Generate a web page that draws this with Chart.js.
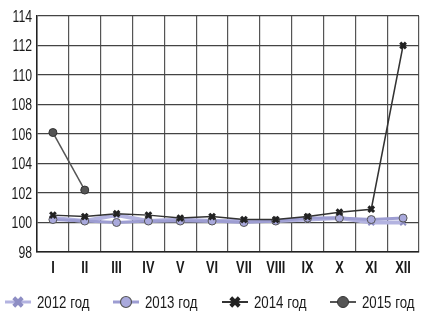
<!DOCTYPE html>
<html>
<head>
<meta charset="utf-8">
<script src="https://cdn.jsdelivr.net/npm/chart.js@4"></script>
<style>
  html, body { margin: 0; padding: 0; background: #fff; overflow: hidden; }
  #wrap { width: 426px; height: 314px; }
</style>
</head>
<body>
<div id="wrap"><canvas id="chart" width="426" height="314"></canvas></div>
<script>
    "use strict";

    // Data
    var months = ["I", "II", "III", "IV", "V", "VI", "VII", "VIII", "IX", "X", "XI", "XII"];
    var yTicks = [98, 100, 102, 104, 106, 108, 110, 112, 114];
    var y2012 = [100.3, 100.1, 100.5, 100.1, 100.2, 100.1, 100.1, 100.1, 100.2, 100.3, 100.0, 100.0];
    var y2013 = [100.2, 100.1, 100.0, 100.1, 100.1, 100.1, 100.0, 100.1, 100.3, 100.3, 100.2, 100.3];
    var y2014 = [100.5, 100.4, 100.6, 100.5, 100.3, 100.4, 100.2, 100.2, 100.4, 100.7, 100.9, 112.0];
    var y2015 = [106.1, 102.2, null, null, null, null, null, null, null, null, null, null];
    var seriesNames = ["2012 год", "2013 год", "2014 год", "2015 год"];

    var FONT = "'Liberation Sans', Arial, sans-serif";

    // condensed text: no narrow font installed, so squeeze it
    function narrowText(ctx, text, x, y, align, font, sx) {
        ctx.save();
        ctx.translate(x, y);
        ctx.scale(sx, 1);
        ctx.font = font;
        ctx.fillStyle = "#1a1a1a";
        ctx.textAlign = align;
        ctx.textBaseline = "middle";
        ctx.fillText(text, 0, 0);
        ctx.restore();
    }

    // Axis labels
    var axisLabels = {
        id: "axisLabels",
        afterDraw: function (chart) {
            var ctx = chart.ctx;
            var xs = chart.scales.x, ys = chart.scales.y;
            ys.ticks.forEach(function (t) {
                narrowText(ctx, String(t.value), 32, ys.getPixelForValue(t.value) + 1, "right", "17px " + FONT, 0.72);
            });
            months.forEach(function (m, i) {
                narrowText(ctx, m, xs.getPixelForValue(i), 269, "center", "bold 16px " + FONT, 0.8);
            });
        }
    };

    // Legend at the bottom (line + marker + label)
    var legendMarks = [
        { r: 6, w: 4, line: 3 },
        { r: 5.5, w: 1.2, line: 3 },
        { r: 6, w: 4, line: 2 },
        { r: 5.5, w: 1, line: 2 }
    ];
    var bottomLegend = {
        id: "bottomLegend",
        afterDraw: function (chart) {
            var ctx = chart.ctx;
            var xs = [5, 113, 222, 330];
            var y = 302;
            chart.data.datasets.forEach(function (ds, i) {
                var x = xs[i];
                var mk = legendMarks[i];
                ctx.save();
                ctx.strokeStyle = ds.borderColor;
                ctx.lineWidth = mk.line;
                ctx.beginPath();
                ctx.moveTo(x, y);
                ctx.lineTo(x + 26, y);
                ctx.stroke();
                ctx.fillStyle = ds.pointBackgroundColor || ds.backgroundColor;
                ctx.strokeStyle = ds.pointBorderColor;
                ctx.lineWidth = mk.w;
                Chart.helpers.drawPoint(ctx, {
                    pointStyle: ds.pointStyle,
                    radius: mk.r,
                    borderWidth: mk.w,
                    rotation: 0
                }, x + 13, y);
                ctx.restore();
                narrowText(ctx, seriesNames[i], x + 32, y + 1, "left", "17px " + FONT, 0.78);
            });
        }
    };

    var ctx = document.getElementById("chart").getContext("2d");
    var myChart = new Chart(ctx, {
        type: "line",
        data: {
            labels: months,
            datasets: [
                {
                    label: seriesNames[0],
                    data: y2012,
                    borderColor: "#b3b3e0",
                    backgroundColor: "#b3b3e0",
                    borderWidth: 4,
                    pointStyle: "crossRot",
                    pointRadius: 4,
                    pointBackgroundColor: "#b3b3e0",
                    pointBorderColor: "#8e8ec4",
                    pointBorderWidth: 2,
                    order: 3
                },
                {
                    label: seriesNames[1],
                    data: y2013,
                    borderColor: "#9d9dd2",
                    backgroundColor: "#a9a9dc",
                    borderWidth: 3,
                    pointStyle: "circle",
                    pointRadius: 4,
                    pointBackgroundColor: "#a9a9dc",
                    pointBorderColor: "#555",
                    pointBorderWidth: 1,
                    order: 2
                },
                {
                    label: seriesNames[2],
                    data: y2014,
                    borderColor: "#333",
                    backgroundColor: "#222",
                    borderWidth: 1.5,
                    pointStyle: "crossRot",
                    pointRadius: 4,
                    pointBackgroundColor: "#222",
                    pointBorderColor: "#222",
                    pointBorderWidth: 3,
                    order: 0
                },
                {
                    label: seriesNames[3],
                    data: y2015,
                    borderColor: "#555",
                    backgroundColor: "#555",
                    borderWidth: 1.5,
                    pointStyle: "circle",
                    pointRadius: 4,
                    pointBackgroundColor: "#555",
                    pointBorderColor: "#333",
                    pointBorderWidth: 1,
                    order: 1
                }
            ]
        },
        options: {
            responsive: false,
            animation: false,
            layout: { padding: { top: 16, right: 3, bottom: 62, left: 37 } },
            plugins: {
                legend: { display: false },
                tooltip: { enabled: false }
            },
            scales: {
                x: {
                    offset: true,
                    grid: { offset: true, color: "#555", lineWidth: 1.2, drawTicks: false },
                    border: { color: "#222", width: 1.5 },
                    ticks: { display: false }
                },
                y: {
                    min: 98,
                    max: 114,
                    afterBuildTicks: function (axis) {
                        axis.ticks = yTicks.map(function (v) { return { value: v }; });
                    },
                    grid: { color: "#444", lineWidth: 1.2, drawTicks: false },
                    border: { color: "#222", width: 1.5 },
                    ticks: { display: false }
                }
            }
        },
        plugins: [axisLabels, bottomLegend]
    });
</script>
</body>
</html>
